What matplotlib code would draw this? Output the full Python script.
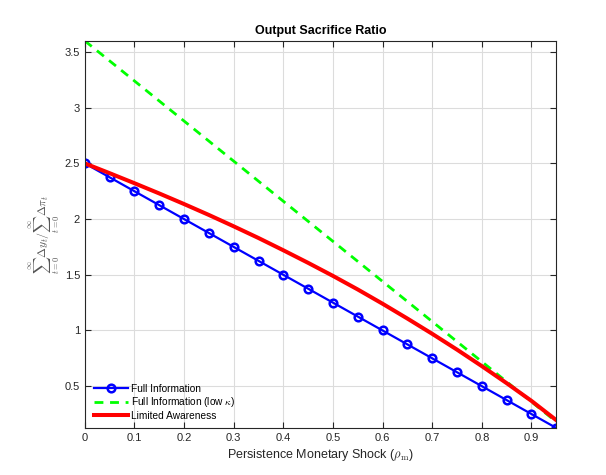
import matplotlib.pyplot as plt

plt.rcParams['font.family'] = ['Liberation Sans', 'DejaVu Sans']
plt.rcParams['mathtext.fontset'] = 'cm'

rho = [0.0, 0.05, 0.1, 0.15, 0.2, 0.25, 0.3, 0.35, 0.4, 0.45,
       0.5, 0.55, 0.6, 0.65, 0.7, 0.75, 0.8, 0.85, 0.9, 0.95]
full_info = [2.5, 2.375, 2.25, 2.125, 2.0, 1.875, 1.75, 1.625, 1.5, 1.375,
             1.25, 1.125, 1.0, 0.875, 0.75, 0.625, 0.5, 0.375, 0.25, 0.125]
full_info_low = [3.6, 3.42, 3.24, 3.06, 2.88, 2.7, 2.52, 2.34, 2.16, 1.98,
                 1.8, 1.62, 1.44, 1.26, 1.08, 0.9, 0.72, 0.54, 0.36, 0.18]
limited = [2.5, 2.412, 2.322, 2.23, 2.135, 2.037, 1.935, 1.83, 1.72, 1.607,
           1.49, 1.368, 1.24, 1.107, 0.97, 0.828, 0.68, 0.527, 0.368, 0.195]

xticks = [0, 0.1, 0.2, 0.3, 0.4, 0.5, 0.6, 0.7, 0.8, 0.9]
yticks = [0.5, 1, 1.5, 2, 2.5, 3, 3.5]
ytick_labels = ['0.5', '1', '1.5', '2', '2.5', '3', '3.5']

fig = plt.figure(figsize=(6.06, 4.75), dpi=100)
ax = fig.add_axes([0.140, 0.099, 0.778, 0.815])

ax.plot(rho, full_info, '-o', color='#0000ff', lw=1.6, ms=5.5, mew=1.8,
        mfc='none', label='Full Information')
ax.plot(rho, full_info_low, '--', color='#00ff00', lw=2.0, dashes=(3.2, 2.4),
        label=r'Full Information (low $\kappa$)')
ax.plot(rho, limited, '-', color='#ff0000', lw=2.9, label='Limited Awareness')

ax.set_xlim(0, 0.95)
ax.set_ylim(0.125, 3.6)
ax.set_xticks(xticks)
ax.set_xticklabels([f'{t:g}' for t in xticks])
ax.set_yticks(yticks)
ax.set_yticklabels(ytick_labels)
ax.grid(True, color='#dcdcdc', lw=0.8)
ax.set_axisbelow(True)
ax.tick_params(direction='in', length=4, width=0.8, colors='#262626',
               labelsize=8, top=True, right=True, labeltop=False, labelright=False)
for s in ax.spines.values():
    s.set_color('#262626')
    s.set_linewidth(0.8)

ax.set_title('Output Sacrifice Ratio', fontsize=9, fontweight='bold', pad=5)
ax.set_xlabel(r'Persistence Monetary Shock ($\rho_{\rm m}$)', fontsize=9,
              color='#262626', labelpad=3)
ax.set_ylabel(r'$\sum_{t=0}^{\infty}\Delta y_t/\sum_{t=0}^{\infty}\Delta\pi_t$',
              fontsize=8.5, color='#555555', labelpad=2)

ax.legend(loc='lower left', frameon=False, fontsize=7.3, handlelength=3.3,
          handletextpad=0.3, labelspacing=0.15, borderaxespad=0.3,
          bbox_to_anchor=(0.005, 0.0))

fig.savefig('out.png', dpi=100)
